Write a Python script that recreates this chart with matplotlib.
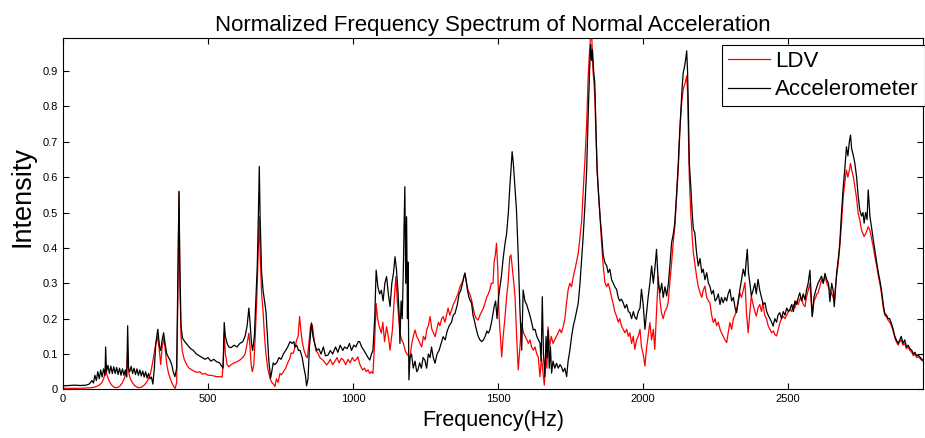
import matplotlib
matplotlib.use("Agg")
import matplotlib.pyplot as plt
import numpy as np

plt.rcParams['font.family'] = ['Liberation Sans', 'DejaVu Sans']

acc_freq = [0, 20, 40, 60, 80, 90, 100, 105, 110, 115, 120, 125, 130, 135, 140, 145, 147, 150, 155, 160,
            165, 170, 175, 180, 185, 190, 195, 200, 205, 210, 215, 220, 223, 226, 230, 235, 240, 245, 250, 255,
            260, 265, 270, 275, 280, 285, 290, 295, 300, 305, 310, 315, 320, 327, 333, 337, 342, 347, 352, 358,
            364, 369, 375, 380, 386, 392, 396, 400, 403, 407, 412, 420, 430, 440, 450, 460, 470, 480, 490, 500,
            510, 520, 530, 540, 548, 552, 556, 560, 566, 572, 580, 590, 600, 610, 620, 628, 635, 641, 645, 650,
            654, 660, 665, 670, 674, 677, 680, 685, 690, 695, 700, 705, 710, 716, 720, 725, 730, 737, 745, 752,
            760, 768, 775, 783, 790, 796, 800, 806, 812, 818, 825, 830, 836, 840, 845, 850, 857, 862, 868, 875,
            882, 890, 898, 905, 914, 922, 930, 940, 948, 956, 965, 971, 980, 988, 995, 1003, 1010, 1018, 1023, 1030,
            1038, 1045, 1052, 1058, 1064, 1069, 1075, 1080, 1086, 1092, 1098, 1104, 1110, 1116, 1122, 1128, 1134, 1140, 1145, 1150,
            1155, 1160, 1162, 1166, 1170, 1174, 1176, 1179, 1182, 1185, 1188, 1190, 1193, 1197, 1202, 1208, 1214, 1220, 1224, 1230,
            1236, 1242, 1248, 1254, 1260, 1266, 1271, 1277, 1283, 1290, 1297, 1304, 1311, 1318, 1325, 1332, 1340, 1346, 1352, 1360,
            1366, 1372, 1378, 1383, 1386, 1390, 1395, 1400, 1405, 1409, 1414, 1420, 1426, 1432, 1438, 1444, 1450, 1456, 1462, 1467,
            1472, 1478, 1483, 1487, 1492, 1497, 1502, 1507, 1512, 1518, 1524, 1530, 1536, 1541, 1545, 1549, 1553, 1558, 1564, 1570,
            1576, 1582, 1587, 1593, 1599, 1605, 1610, 1616, 1622, 1628, 1634, 1640, 1645, 1649, 1653, 1657, 1662, 1666, 1670, 1673,
            1677, 1681, 1685, 1690, 1696, 1702, 1708, 1714, 1719, 1725, 1731, 1737, 1742, 1748, 1754, 1760, 1766, 1771, 1777, 1783,
            1789, 1794, 1800, 1806, 1811, 1816, 1820, 1823, 1826, 1830, 1834, 1838, 1842, 1849, 1853, 1857, 1863, 1869, 1875, 1880,
            1886, 1892, 1898, 1903, 1909, 1915, 1920, 1926, 1932, 1938, 1944, 1950, 1955, 1961, 1967, 1972, 1978, 1984, 1990, 1995,
            2001, 2007, 2013, 2018, 2024, 2030, 2036, 2041, 2047, 2053, 2059, 2065, 2070, 2076, 2082, 2088, 2093, 2099, 2105, 2110,
            2116, 2122, 2127, 2131, 2135, 2139, 2143, 2147, 2151, 2154, 2157, 2160, 2165, 2170, 2174, 2179, 2185, 2191, 2197, 2203,
            2208, 2214, 2220, 2226, 2231, 2237, 2243, 2249, 2254, 2260, 2266, 2271, 2277, 2283, 2289, 2294, 2300, 2306, 2312, 2318,
            2323, 2329, 2334, 2340, 2346, 2352, 2357, 2360, 2364, 2369, 2374, 2380, 2386, 2391, 2397, 2403, 2409, 2415, 2421, 2427,
            2432, 2438, 2444, 2449, 2455, 2461, 2466, 2472, 2478, 2484, 2490, 2496, 2502, 2507, 2513, 2519, 2524, 2530, 2536, 2541,
            2547, 2553, 2559, 2564, 2570, 2576, 2580, 2584, 2590, 2596, 2600, 2604, 2610, 2616, 2622, 2628, 2634, 2640, 2645, 2651,
            2656, 2660, 2664, 2668, 2674, 2679, 2685, 2691, 2697, 2702, 2707, 2712, 2716, 2720, 2726, 2731, 2737, 2742, 2748, 2754,
            2759, 2763, 2768, 2773, 2777, 2780, 2783, 2790, 2795, 2800, 2806, 2812, 2817, 2823, 2829, 2834, 2840, 2846, 2851, 2857,
            2863, 2869, 2874, 2880, 2886, 2891, 2897, 2903, 2909, 2915, 2921, 2927, 2933, 2938, 2944, 2950, 2955, 2962, 2970]
acc_val = [0.010, 0.011, 0.012, 0.011, 0.012, 0.015, 0.025, 0.018, 0.040, 0.025, 0.050, 0.030, 0.055, 0.035, 0.058, 0.040, 0.120, 0.050, 0.068, 0.045,
           0.066, 0.045, 0.064, 0.045, 0.062, 0.042, 0.060, 0.040, 0.058, 0.040, 0.055, 0.035, 0.180, 0.060, 0.050, 0.065, 0.045, 0.060, 0.042, 0.058,
           0.040, 0.055, 0.038, 0.052, 0.035, 0.050, 0.032, 0.045, 0.030, 0.035, 0.015, 0.060, 0.130, 0.170, 0.120, 0.110, 0.140, 0.160, 0.130, 0.100,
           0.090, 0.083, 0.070, 0.050, 0.036, 0.060, 0.300, 0.559, 0.350, 0.180, 0.145, 0.135, 0.125, 0.115, 0.110, 0.100, 0.095, 0.090, 0.085, 0.090,
           0.080, 0.085, 0.078, 0.075, 0.065, 0.060, 0.189, 0.150, 0.130, 0.120, 0.118, 0.125, 0.120, 0.130, 0.135, 0.150, 0.180, 0.230, 0.190, 0.130,
           0.110, 0.150, 0.250, 0.350, 0.500, 0.630, 0.480, 0.330, 0.280, 0.250, 0.220, 0.150, 0.080, 0.032, 0.050, 0.075, 0.070, 0.075, 0.090, 0.085,
           0.100, 0.110, 0.120, 0.135, 0.130, 0.135, 0.120, 0.125, 0.110, 0.110, 0.090, 0.065, 0.040, 0.010, 0.030, 0.120, 0.188, 0.150, 0.130, 0.110,
           0.115, 0.100, 0.120, 0.095, 0.097, 0.110, 0.100, 0.120, 0.105, 0.125, 0.110, 0.120, 0.115, 0.130, 0.110, 0.125, 0.120, 0.135, 0.135, 0.120,
           0.110, 0.100, 0.090, 0.083, 0.100, 0.110, 0.200, 0.337, 0.290, 0.270, 0.280, 0.250, 0.300, 0.319, 0.270, 0.234, 0.300, 0.330, 0.375, 0.340,
           0.280, 0.200, 0.130, 0.250, 0.200, 0.350, 0.450, 0.573, 0.300, 0.488, 0.200, 0.360, 0.027, 0.090, 0.100, 0.060, 0.080, 0.050, 0.055, 0.075,
           0.060, 0.090, 0.083, 0.060, 0.100, 0.090, 0.120, 0.090, 0.074, 0.100, 0.110, 0.130, 0.149, 0.140, 0.165, 0.180, 0.190, 0.210, 0.215, 0.240,
           0.270, 0.280, 0.300, 0.320, 0.329, 0.310, 0.280, 0.260, 0.250, 0.244, 0.210, 0.190, 0.168, 0.150, 0.140, 0.135, 0.140, 0.150, 0.165, 0.159,
           0.168, 0.190, 0.215, 0.234, 0.250, 0.200, 0.260, 0.290, 0.320, 0.370, 0.410, 0.441, 0.500, 0.573, 0.620, 0.672, 0.640, 0.580, 0.507, 0.380,
           0.224, 0.111, 0.281, 0.250, 0.240, 0.224, 0.210, 0.190, 0.168, 0.170, 0.150, 0.140, 0.131, 0.080, 0.262, 0.100, 0.036, 0.150, 0.090, 0.168,
           0.060, 0.120, 0.046, 0.080, 0.060, 0.074, 0.060, 0.070, 0.064, 0.050, 0.060, 0.036, 0.080, 0.110, 0.149, 0.180, 0.200, 0.220, 0.244, 0.300,
           0.370, 0.432, 0.520, 0.620, 0.770, 0.900, 0.975, 0.930, 0.960, 0.900, 0.867, 0.750, 0.622, 0.528, 0.480, 0.443, 0.380, 0.358, 0.350, 0.330,
           0.340, 0.310, 0.300, 0.290, 0.283, 0.260, 0.250, 0.255, 0.245, 0.230, 0.240, 0.220, 0.217, 0.200, 0.220, 0.205, 0.198, 0.220, 0.230, 0.283,
           0.240, 0.170, 0.220, 0.260, 0.300, 0.349, 0.300, 0.340, 0.396, 0.300, 0.273, 0.300, 0.260, 0.290, 0.264, 0.300, 0.350, 0.415, 0.440, 0.471,
           0.550, 0.641, 0.730, 0.792, 0.850, 0.895, 0.910, 0.930, 0.957, 0.900, 0.780, 0.641, 0.575, 0.500, 0.453, 0.443, 0.386, 0.349, 0.370, 0.330,
           0.340, 0.310, 0.330, 0.300, 0.292, 0.270, 0.280, 0.250, 0.255, 0.270, 0.240, 0.260, 0.245, 0.260, 0.250, 0.270, 0.283, 0.250, 0.260, 0.230,
           0.217, 0.250, 0.280, 0.310, 0.340, 0.320, 0.370, 0.396, 0.330, 0.300, 0.264, 0.280, 0.300, 0.270, 0.311, 0.280, 0.260, 0.240, 0.245, 0.220,
           0.210, 0.200, 0.190, 0.179, 0.200, 0.190, 0.210, 0.217, 0.200, 0.220, 0.210, 0.230, 0.220, 0.226, 0.240, 0.220, 0.250, 0.240, 0.260, 0.273,
           0.250, 0.270, 0.253, 0.280, 0.300, 0.337, 0.270, 0.206, 0.260, 0.280, 0.290, 0.300, 0.310, 0.320, 0.300, 0.328, 0.310, 0.300, 0.248, 0.300,
           0.280, 0.234, 0.280, 0.328, 0.370, 0.413, 0.500, 0.573, 0.630, 0.686, 0.660, 0.700, 0.719, 0.680, 0.660, 0.639, 0.600, 0.550, 0.507, 0.490,
           0.500, 0.470, 0.500, 0.480, 0.564, 0.530, 0.488, 0.450, 0.420, 0.394, 0.360, 0.330, 0.309, 0.280, 0.240, 0.215, 0.210, 0.200, 0.200, 0.187,
           0.170, 0.150, 0.140, 0.130, 0.140, 0.150, 0.130, 0.140, 0.120, 0.125, 0.115, 0.111, 0.100, 0.105, 0.095, 0.097, 0.092, 0.085, 0.080]

ldv_freq = [0, 20, 40, 60, 80, 100, 115, 125, 135, 142, 146, 148, 150, 156, 163, 170, 177, 183, 190, 197,
            204, 210, 215, 220, 223, 226, 232, 240, 248, 256, 265, 272, 280, 288, 295, 302, 310, 318, 326, 331,
            337, 342, 348, 353, 358, 364, 370, 376, 382, 387, 392, 396, 400, 403, 407, 411, 418, 427, 435, 445,
            455, 465, 472, 480, 490, 500, 510, 520, 530, 540, 549, 553, 556, 560, 566, 572, 580, 590, 600, 610,
            620, 628, 635, 641, 645, 649, 653, 658, 663, 668, 672, 677, 680, 685, 690, 695, 700, 706, 714, 720,
            726, 731, 736, 742, 748, 753, 760, 768, 775, 781, 787, 794, 800, 806, 811, 816, 820, 825, 831, 839,
            843, 848, 854, 860, 866, 872, 879, 886, 893, 900, 909, 914, 922, 930, 938, 945, 952, 960, 967, 975,
            983, 990, 998, 1005, 1012, 1017, 1024, 1030, 1034, 1040, 1046, 1052, 1058, 1064, 1069, 1074, 1080, 1085, 1090, 1098,
            1103, 1109, 1116, 1122, 1128, 1132, 1136, 1142, 1148, 1153, 1158, 1162, 1168, 1174, 1180, 1186, 1192, 1197, 1203, 1208,
            1214, 1220, 1226, 1231, 1237, 1243, 1249, 1255, 1260, 1266, 1272, 1278, 1283, 1289, 1295, 1300, 1306, 1311, 1317, 1323,
            1328, 1334, 1340, 1346, 1352, 1357, 1363, 1369, 1375, 1380, 1386, 1392, 1397, 1403, 1409, 1415, 1420, 1426, 1432, 1438,
            1444, 1450, 1455, 1461, 1467, 1472, 1477, 1483, 1487, 1491, 1495, 1499, 1504, 1509, 1513, 1518, 1524, 1530, 1535, 1541,
            1545, 1550, 1555, 1559, 1564, 1570, 1576, 1582, 1588, 1594, 1600, 1605, 1611, 1616, 1622, 1628, 1634, 1639, 1645, 1650,
            1655, 1660, 1665, 1669, 1673, 1678, 1684, 1690, 1696, 1702, 1707, 1713, 1719, 1725, 1731, 1736, 1742, 1748, 1754, 1760,
            1766, 1771, 1777, 1783, 1789, 1794, 1800, 1806, 1811, 1816, 1820, 1824, 1828, 1831, 1834, 1838, 1842, 1847, 1852, 1857,
            1863, 1869, 1875, 1880, 1886, 1892, 1898, 1903, 1909, 1915, 1920, 1926, 1932, 1938, 1944, 1950, 1955, 1961, 1967, 1972,
            1978, 1984, 1990, 1995, 2001, 2007, 2013, 2018, 2024, 2030, 2036, 2041, 2047, 2053, 2059, 2064, 2070, 2076, 2082, 2087,
            2093, 2099, 2105, 2110, 2116, 2122, 2127, 2131, 2135, 2139, 2143, 2147, 2151, 2154, 2157, 2160, 2165, 2170, 2174, 2180,
            2185, 2191, 2197, 2203, 2208, 2214, 2220, 2226, 2231, 2237, 2243, 2249, 2254, 2260, 2266, 2271, 2277, 2283, 2289, 2294,
            2300, 2306, 2312, 2318, 2323, 2329, 2334, 2340, 2346, 2352, 2357, 2363, 2369, 2374, 2380, 2386, 2391, 2397, 2403, 2409,
            2414, 2420, 2426, 2432, 2438, 2444, 2450, 2455, 2461, 2467, 2473, 2478, 2484, 2490, 2496, 2502, 2507, 2513, 2519, 2524,
            2530, 2536, 2541, 2547, 2553, 2559, 2564, 2570, 2576, 2580, 2584, 2590, 2596, 2600, 2604, 2610, 2616, 2622, 2628, 2634,
            2640, 2645, 2651, 2656, 2660, 2664, 2668, 2674, 2679, 2685, 2691, 2697, 2702, 2707, 2712, 2716, 2720, 2726, 2731, 2737,
            2742, 2748, 2754, 2759, 2763, 2768, 2773, 2777, 2783, 2790, 2795, 2800, 2806, 2812, 2817, 2823, 2829, 2834, 2840, 2846,
            2851, 2857, 2863, 2869, 2874, 2880, 2886, 2891, 2897, 2903, 2909, 2915, 2921, 2927, 2933, 2938, 2944, 2950, 2955, 2962,
            2970]
ldv_val = [0.003, 0.003, 0.003, 0.003, 0.004, 0.005, 0.008, 0.012, 0.020, 0.035, 0.050, 0.060, 0.045, 0.030, 0.018, 0.010, 0.006, 0.005, 0.006, 0.010,
           0.018, 0.028, 0.040, 0.060, 0.110, 0.050, 0.030, 0.018, 0.010, 0.006, 0.005, 0.007, 0.012, 0.020, 0.030, 0.045, 0.080, 0.120, 0.149, 0.120,
           0.070, 0.120, 0.144, 0.110, 0.070, 0.045, 0.030, 0.018, 0.008, 0.003, 0.020, 0.250, 0.560, 0.300, 0.150, 0.110, 0.085, 0.069, 0.060, 0.055,
           0.050, 0.048, 0.050, 0.043, 0.045, 0.040, 0.040, 0.038, 0.036, 0.036, 0.035, 0.080, 0.160, 0.100, 0.070, 0.064, 0.070, 0.075, 0.078, 0.083,
           0.090, 0.100, 0.130, 0.159, 0.120, 0.070, 0.050, 0.070, 0.150, 0.250, 0.350, 0.488, 0.380, 0.270, 0.220, 0.150, 0.100, 0.060, 0.031, 0.020,
           0.015, 0.008, 0.030, 0.020, 0.045, 0.041, 0.050, 0.060, 0.075, 0.085, 0.103, 0.102, 0.120, 0.140, 0.150, 0.206, 0.170, 0.135, 0.111, 0.092,
           0.090, 0.130, 0.182, 0.182, 0.140, 0.110, 0.103, 0.090, 0.085, 0.080, 0.069, 0.074, 0.085, 0.070, 0.080, 0.090, 0.075, 0.088, 0.083, 0.070,
           0.085, 0.075, 0.090, 0.080, 0.085, 0.092, 0.070, 0.060, 0.055, 0.060, 0.050, 0.055, 0.045, 0.050, 0.045, 0.120, 0.243, 0.200, 0.180, 0.159,
           0.190, 0.135, 0.177, 0.150, 0.111, 0.140, 0.168, 0.250, 0.319, 0.250, 0.200, 0.159, 0.140, 0.130, 0.110, 0.100, 0.095, 0.092, 0.130, 0.150,
           0.168, 0.150, 0.140, 0.130, 0.120, 0.150, 0.140, 0.170, 0.180, 0.206, 0.170, 0.160, 0.149, 0.170, 0.190, 0.180, 0.200, 0.206, 0.190, 0.210,
           0.230, 0.210, 0.224, 0.240, 0.250, 0.260, 0.272, 0.290, 0.300, 0.310, 0.328, 0.300, 0.280, 0.270, 0.253, 0.230, 0.210, 0.200, 0.196, 0.210,
           0.220, 0.230, 0.243, 0.260, 0.270, 0.281, 0.300, 0.300, 0.361, 0.380, 0.413, 0.350, 0.206, 0.140, 0.092, 0.150, 0.200, 0.262, 0.300, 0.375,
           0.380, 0.340, 0.300, 0.262, 0.160, 0.055, 0.120, 0.187, 0.160, 0.150, 0.140, 0.130, 0.140, 0.120, 0.111, 0.120, 0.100, 0.092, 0.036, 0.090,
           0.050, 0.012, 0.100, 0.060, 0.177, 0.120, 0.150, 0.130, 0.140, 0.150, 0.159, 0.170, 0.160, 0.177, 0.200, 0.240, 0.281, 0.300, 0.290, 0.319,
           0.340, 0.360, 0.385, 0.430, 0.479, 0.560, 0.648, 0.750, 0.880, 0.960, 1.000, 0.990, 0.900, 0.870, 0.829, 0.720, 0.622, 0.550, 0.490, 0.420,
           0.350, 0.302, 0.290, 0.300, 0.283, 0.260, 0.240, 0.220, 0.207, 0.190, 0.200, 0.180, 0.170, 0.160, 0.170, 0.150, 0.160, 0.130, 0.150, 0.113,
           0.140, 0.150, 0.170, 0.120, 0.100, 0.066, 0.120, 0.150, 0.189, 0.140, 0.170, 0.113, 0.220, 0.320, 0.250, 0.217, 0.200, 0.220, 0.230, 0.245,
           0.300, 0.358, 0.420, 0.460, 0.540, 0.622, 0.720, 0.780, 0.820, 0.849, 0.860, 0.870, 0.886, 0.840, 0.720, 0.600, 0.500, 0.430, 0.386, 0.350,
           0.320, 0.290, 0.273, 0.260, 0.280, 0.292, 0.260, 0.250, 0.245, 0.210, 0.189, 0.200, 0.180, 0.190, 0.170, 0.160, 0.150, 0.140, 0.132, 0.160,
           0.189, 0.170, 0.200, 0.210, 0.226, 0.250, 0.273, 0.260, 0.280, 0.302, 0.220, 0.160, 0.220, 0.264, 0.240, 0.220, 0.207, 0.230, 0.240, 0.220,
           0.245, 0.210, 0.200, 0.180, 0.170, 0.160, 0.165, 0.155, 0.151, 0.170, 0.190, 0.200, 0.207, 0.200, 0.210, 0.220, 0.226, 0.220, 0.240, 0.230,
           0.250, 0.240, 0.255, 0.260, 0.240, 0.234, 0.260, 0.280, 0.300, 0.250, 0.206, 0.250, 0.260, 0.270, 0.272, 0.290, 0.310, 0.300, 0.323, 0.300,
           0.290, 0.281, 0.270, 0.260, 0.248, 0.290, 0.320, 0.360, 0.403, 0.470, 0.545, 0.590, 0.620, 0.600, 0.620, 0.639, 0.620, 0.600, 0.573, 0.540,
           0.500, 0.479, 0.450, 0.440, 0.432, 0.440, 0.450, 0.460, 0.450, 0.420, 0.400, 0.375, 0.350, 0.320, 0.300, 0.270, 0.230, 0.210, 0.205, 0.195,
           0.190, 0.180, 0.165, 0.145, 0.135, 0.125, 0.135, 0.140, 0.125, 0.130, 0.115, 0.120, 0.110, 0.105, 0.095, 0.100, 0.090, 0.092, 0.088, 0.082,
           0.078]

x_ticks = [0, 500, 1000, 1500, 2000, 2500]
y_ticks = [0, 0.1, 0.2, 0.3, 0.4, 0.5, 0.6, 0.7, 0.8, 0.9]
y_tick_labels = ['0', '0.1', '0.2', '0.3', '0.4', '0.5', '0.6', '0.7', '0.8', '0.9']

fig = plt.figure(figsize=(9.25, 4.38), dpi=100)
ax = fig.add_axes([63 / 925, 1 - 389.4 / 438, (923 - 63) / 925, (389.4 - 38.3) / 438])

ax.plot(ldv_freq, ldv_val, color='#ff0000', lw=0.9, label='LDV')
ax.plot(acc_freq, acc_val, color='#000000', lw=0.9, label='Accelerometer')

ax.set_xlim(0, 2966)
ax.set_ylim(0, 0.9925)
ax.set_xticks(x_ticks)
ax.set_xticklabels([str(t) for t in x_ticks])
ax.set_yticks(y_ticks)
ax.set_yticklabels(y_tick_labels)
ax.tick_params(direction='in', top=True, right=True, labelsize=8, length=4, width=0.8)
for s in ax.spines.values():
    s.set_linewidth(0.8)

ax.set_title('Normalized Frequency Spectrum of Normal Acceleration', fontsize=16, pad=5)
ax.set_xlabel('Frequency(Hz)', fontsize=15.5, labelpad=4)
ax.set_ylabel('Intensity', fontsize=19.5, va='center')
ax.yaxis.set_label_coords(-41 / 860, 0.548)

leg = ax.legend(loc='upper right', fontsize=16, frameon=True, fancybox=False,
                edgecolor='black', framealpha=1, borderpad=0.25, handlelength=1.9,
                handletextpad=0.25, labelspacing=0.35, borderaxespad=0,
                bbox_to_anchor=(924.5 / 925, 1 - 45 / 438), bbox_transform=fig.transFigure)
leg.get_frame().set_linewidth(0.8)

fig.savefig('out.png', dpi=100)
